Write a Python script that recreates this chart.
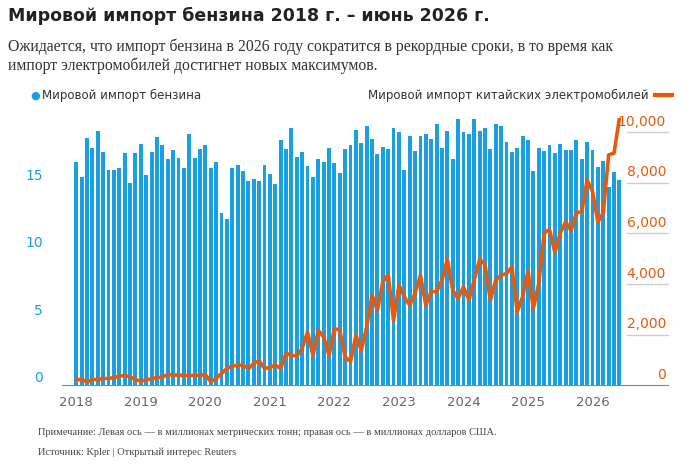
import numpy as np, pandas as pd, matplotlib
matplotlib.use("Agg")
import matplotlib.pyplot as plt, seaborn as sns

years = [2018, 2019, 2020, 2021, 2022, 2023, 2024, 2025, 2026]
gasoline_zy = [158,202,85,115,65,127,182,181,175,130,220,131,
               103,196,127,81,107,149,120,146,175,73,145,117,
               107,175,158,311,328,175,166,184,213,208,213,165,
               194,222,92,118,56,142,128,168,201,148,157,115,
               159,190,117,105,60,100,50,88,133,112,118,55,
               67,180,80,125,80,72,87,42,115,65,148,27,
               67,73,28,63,55,117,42,50,97,128,115,78,
               90,183,115,125,105,130,103,120,122,91,147,97,
               120,173,153,233,188,210]
gasoline = [round((275 - z/3)/13.47, 2) for z in gasoline_zy]
ev = [225,225,130,220,230,265,265,300,355,380,330,225,
      150,220,250,300,320,420,400,400,390,380,390,390,
      420,130,265,460,660,750,790,790,660,860,960,660,
      700,800,660,1260,1180,1150,1450,2100,1180,2170,1900,1180,
      2240,2170,1120,920,1970,1380,2300,3560,2960,4080,4370,2540,
      3950,3490,3160,3620,4340,3160,3690,3690,4150,4960,3750,3420,
      3880,3360,4150,4960,4780,3360,4150,4340,4410,4670,2900,3490,
      4500,3030,4020,6000,6150,5240,6000,6450,6100,6810,6850,8100,
      7640,6450,6810,9090,9160,10540]
left_ticks = [0, 5, 10, 15]
right_ticks = [0, 2000, 4000, 6000, 8000, 10000]

BLUE = "#1a9fe0"; ORANGE = "#e8590c"; GRAY = "#666666"
idx = np.arange(len(gasoline))
df = pd.DataFrame({"i": idx, "g": gasoline, "ev": ev})

fig = plt.figure(figsize=(7, 4.68), dpi=100)
ax = fig.add_axes([0.089, 0.177, 0.865, 0.571])
sns.barplot(data=df, x="i", y="g", native_scale=True, color=BLUE, width=0.72,
            saturation=1, ax=ax)
ax2 = ax.twinx()
sns.lineplot(data=df, x="i", y="ev", color=ORANGE, lw=2.6, ax=ax2)
XR = 110.0
for a in (ax, ax2):
    a.set_xlim(-2.6, XR)
    a.set_xlabel(""); a.set_ylabel("")
    for s in a.spines.values(): s.set_visible(False)
ax.set_ylim(0, 19.8); ax2.set_ylim(0, 10550)
ax.spines["bottom"].set_visible(True); ax.spines["bottom"].set_color("#888888")
ax.set_xticks([12*k for k in range(len(years))], [str(y) for y in years])
ax.tick_params(axis="x", length=0, pad=8, labelsize=9.5, labelcolor=GRAY)
ax.set_yticks(left_ticks, [str(t) for t in left_ticks])
ax.tick_params(axis="y", length=0, labelsize=10, labelcolor=BLUE, pad=14)
for l in ax.get_yticklabels(): l.set_va("bottom")
ax2.set_yticks(right_ticks, [""] * len(right_ticks))
ax2.tick_params(axis="y", length=0)
for t in right_ticks:
    ax2.text(XR - 0.3, t + 120, f"{t:,}", color=ORANGE, fontsize=10, ha="right", va="bottom")
    if t:
        ax2.plot([102.5, XR], [t, t], color="#cccccc", lw=1, clip_on=False)

fig.text(0.012, 0.955, "Мировой импорт бензина 2018 г. – июнь 2026 г.", fontsize=12.5,
         fontweight="bold", color="#222222")
fig.text(0.012, 0.85, "Ожидается, что импорт бензина в 2026 году сократится в рекордные сроки, в то время как\nимпорт электромобилей достигнет новых максимумов.",
         fontsize=11.3, family="Liberation Serif", color="#333333", linespacing=1.2)
fig.text(0.043, 0.795, "●", color=BLUE, fontsize=8, va="center")
fig.text(0.06, 0.795, "Мировой импорт бензина", fontsize=8.5, color="#333333", va="center")
fig.text(0.927, 0.795, "Мировой импорт китайских электромобилей", fontsize=8.5,
         color="#333333", va="center", ha="right")
fig.lines.append(plt.Line2D([0.935, 0.96], [0.797, 0.797], color=ORANGE, lw=3,
                            transform=fig.transFigure))
fig.text(0.055, 0.07, "Примечание: Левая ось — в миллионах метрических тонн; правая ось — в миллионах долларов США.",
         fontsize=7.5, family="Liberation Serif", color="#444444")
fig.text(0.055, 0.028, "Источник: Kpler | Открытый интерес Reuters", fontsize=7.5,
         family="Liberation Serif", color="#444444")
fig.savefig("out.png", dpi=100)
